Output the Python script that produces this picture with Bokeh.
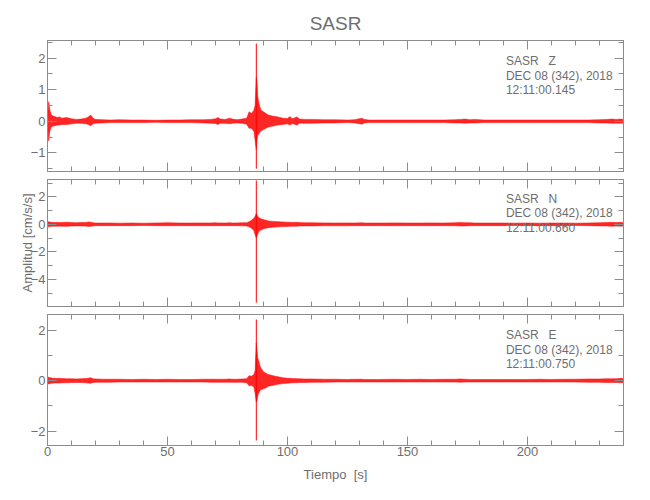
from bokeh.plotting import figure
from bokeh.models import (LinearAxis, Range1d, Label, SingleIntervalTicker,
                          ColumnDataSource, CustomLabelingPolicy)
from bokeh.layouts import column
from bokeh.embed import file_html
from bokeh.resources import INLINE

# ---- data ----
t_env = [0, 0.5, 1, 1.5, 2, 3, 4, 5, 6, 8,
         10, 12, 14, 16, 17, 18, 19, 20, 23, 26,
         30, 35, 40, 45, 50, 55, 60, 65, 68, 70,
         71, 72, 74, 76, 77, 79, 81, 83, 84, 85,
         86, 86.5, 87, 87.3, 87.6, 88, 88.5, 89, 90, 91,
         92, 94, 96, 98, 100, 101, 102, 104, 105, 107,
         110, 115, 120, 125, 128, 131, 132, 134, 138, 145,
         150, 155, 160, 165, 170, 172, 174, 176, 178, 182,
         190, 195, 200, 205, 210, 215, 220, 225, 230, 233,
         235, 237, 239, 240]

hi_z = [0.10, 0.62, 0.35, 0.22, 0.18, 0.15, 0.12, 0.14, 0.10, 0.12,
        0.08, 0.06, 0.07, 0.10, 0.14, 0.20, 0.10, 0.06, 0.05, 0.04,
        0.05, 0.04, 0.04, 0.03, 0.04, 0.04, 0.05, 0.05, 0.06, 0.08,
        0.12, 0.07, 0.06, 0.10, 0.07, 0.05, 0.07, 0.10, 0.30, 0.25,
        0.35, 0.50, 1.40, 1.25, 0.80, 0.60, 0.45, 0.35, 0.30, 0.25,
        0.20, 0.16, 0.14, 0.10, 0.09, 0.15, 0.08, 0.14, 0.07, 0.06,
        0.06, 0.05, 0.05, 0.04, 0.05, 0.10, 0.06, 0.04, 0.04, 0.04,
        0.04, 0.04, 0.04, 0.04, 0.05, 0.06, 0.07, 0.05, 0.06, 0.04,
        0.04, 0.04, 0.04, 0.04, 0.04, 0.04, 0.04, 0.04, 0.05, 0.06,
        0.07, 0.06, 0.07, 0.05]
lo_z = [-0.10, -0.62, -0.30, -0.20, -0.16, -0.14, -0.12, -0.12, -0.10, -0.10,
        -0.08, -0.06, -0.06, -0.08, -0.10, -0.14, -0.08, -0.06, -0.05, -0.04,
        -0.04, -0.04, -0.04, -0.03, -0.04, -0.04, -0.04, -0.05, -0.06, -0.07,
        -0.10, -0.06, -0.06, -0.08, -0.06, -0.05, -0.06, -0.09, -0.22, -0.22,
        -0.32, -0.60, -0.90, -0.60, -0.45, -0.40, -0.35, -0.30, -0.26, -0.22,
        -0.18, -0.15, -0.12, -0.10, -0.08, -0.12, -0.07, -0.12, -0.06, -0.06,
        -0.06, -0.05, -0.05, -0.04, -0.05, -0.09, -0.05, -0.04, -0.04, -0.04,
        -0.04, -0.04, -0.04, -0.04, -0.05, -0.05, -0.06, -0.05, -0.05, -0.04,
        -0.04, -0.04, -0.04, -0.04, -0.04, -0.04, -0.04, -0.04, -0.05, -0.05,
        -0.06, -0.06, -0.06, -0.05]

hi_n = [0.15, 0.20, 0.18, 0.15, 0.15, 0.14, 0.15, 0.13, 0.14, 0.15,
        0.13, 0.12, 0.14, 0.13, 0.18, 0.16, 0.12, 0.10, 0.10, 0.10,
        0.09, 0.10, 0.09, 0.10, 0.12, 0.10, 0.10, 0.11, 0.10, 0.12,
        0.10, 0.11, 0.10, 0.12, 0.10, 0.11, 0.12, 0.12, 0.20, 0.30,
        0.45, 0.60, 0.80, 0.70, 0.60, 0.50, 0.45, 0.40, 0.35, 0.30,
        0.25, 0.22, 0.20, 0.18, 0.16, 0.15, 0.14, 0.15, 0.13, 0.12,
        0.12, 0.11, 0.10, 0.11, 0.10, 0.12, 0.10, 0.10, 0.10, 0.11,
        0.10, 0.10, 0.11, 0.10, 0.12, 0.14, 0.12, 0.12, 0.10, 0.10,
        0.10, 0.09, 0.10, 0.09, 0.10, 0.10, 0.09, 0.10, 0.12, 0.14,
        0.15, 0.14, 0.15, 0.12]
lo_n = [-0.15, -0.18, -0.16, -0.14, -0.14, -0.13, -0.14, -0.12, -0.13, -0.14,
        -0.12, -0.11, -0.12, -0.12, -0.15, -0.14, -0.11, -0.10, -0.09, -0.09,
        -0.09, -0.09, -0.08, -0.09, -0.10, -0.09, -0.09, -0.10, -0.09, -0.10,
        -0.09, -0.10, -0.09, -0.10, -0.09, -0.10, -0.10, -0.11, -0.18, -0.28,
        -0.45, -0.75, -1.00, -0.85, -0.70, -0.55, -0.45, -0.40, -0.32, -0.28,
        -0.24, -0.20, -0.18, -0.16, -0.15, -0.14, -0.13, -0.13, -0.12, -0.11,
        -0.11, -0.10, -0.10, -0.10, -0.09, -0.10, -0.09, -0.09, -0.09, -0.10,
        -0.09, -0.09, -0.10, -0.09, -0.10, -0.12, -0.11, -0.10, -0.09, -0.09,
        -0.09, -0.08, -0.09, -0.09, -0.09, -0.09, -0.08, -0.09, -0.11, -0.12,
        -0.13, -0.12, -0.13, -0.11]

hi_e = [0.15, 0.14, 0.12, 0.12, 0.10, 0.10, 0.09, 0.10, 0.09, 0.08,
        0.08, 0.07, 0.08, 0.09, 0.10, 0.12, 0.08, 0.07, 0.06, 0.06,
        0.06, 0.05, 0.06, 0.05, 0.06, 0.05, 0.05, 0.06, 0.06, 0.06,
        0.06, 0.06, 0.06, 0.07, 0.06, 0.06, 0.07, 0.08, 0.20, 0.18,
        0.25, 0.40, 1.50, 1.20, 0.90, 0.80, 0.60, 0.50, 0.35, 0.30,
        0.25, 0.20, 0.16, 0.12, 0.10, 0.10, 0.09, 0.08, 0.08, 0.07,
        0.07, 0.06, 0.06, 0.05, 0.06, 0.06, 0.05, 0.05, 0.05, 0.06,
        0.05, 0.06, 0.05, 0.06, 0.06, 0.07, 0.06, 0.05, 0.05, 0.05,
        0.05, 0.05, 0.05, 0.06, 0.05, 0.06, 0.06, 0.07, 0.07, 0.08,
        0.08, 0.08, 0.10, 0.08]
lo_e = [-0.15, -0.12, -0.12, -0.10, -0.10, -0.09, -0.09, -0.09, -0.08, -0.08,
        -0.07, -0.07, -0.07, -0.08, -0.09, -0.10, -0.07, -0.06, -0.06, -0.06,
        -0.05, -0.05, -0.05, -0.05, -0.05, -0.05, -0.05, -0.05, -0.06, -0.06,
        -0.06, -0.06, -0.06, -0.06, -0.06, -0.06, -0.06, -0.08, -0.20, -0.18,
        -0.25, -0.50, -0.85, -0.80, -0.60, -0.50, -0.40, -0.35, -0.32, -0.28,
        -0.22, -0.18, -0.14, -0.11, -0.10, -0.09, -0.08, -0.08, -0.07, -0.07,
        -0.06, -0.06, -0.05, -0.05, -0.05, -0.05, -0.05, -0.05, -0.05, -0.05,
        -0.05, -0.05, -0.05, -0.05, -0.05, -0.06, -0.05, -0.05, -0.05, -0.05,
        -0.05, -0.05, -0.05, -0.05, -0.05, -0.05, -0.05, -0.06, -0.06, -0.07,
        -0.07, -0.07, -0.08, -0.07]

spike_t = [87.0]
spike_z_hi, spike_z_lo = [2.46], [-1.50]
spike_n_hi, spike_n_lo = [3.2], [-5.7]
spike_e_hi, spike_e_lo = [2.43], [-2.37]

station = "SASR"
components = ["Z", "N", "E"]
start_times = ["12:11:00.145", "12:11:00.660", "12:11:00.750"]
date_text = "DEC 08 (342), 2018"

# ---- layout ----
W = 645
LEFT, RIGHT = 47, 22
FRAME_H = 135
GRAY = "#6e6e6e"
FRAME = "#8c8c8c"
FONT = "Liberation Sans"
RED = "#ff0000"
NBSP = "\u00a0"

HIDE_CODE = """
for (const i of indices) {
    indices.unset(i)
}
return indices
"""


def add_axes(p, y_major, y_minor_n, show_x_labels, ylabel=None):
    xt = SingleIntervalTicker(interval=50, num_minor_ticks=5)
    yt = SingleIntervalTicker(interval=y_major, num_minor_ticks=y_minor_n)
    for loc in ["below", "above", "left", "right"]:
        ticker = xt if loc in ("below", "above") else yt
        ax = LinearAxis(ticker=ticker)
        ax.axis_line_color = FRAME
        ax.major_tick_line_color = FRAME
        ax.minor_tick_line_color = FRAME
        ax.major_tick_in = 9
        ax.major_tick_out = 0
        ax.minor_tick_in = 5
        ax.minor_tick_out = 0
        ax.major_label_text_color = GRAY
        ax.major_label_text_font = FONT
        ax.major_label_text_font_size = "13px"
        ax.major_label_standoff = 2
        if loc == "below":
            ax.major_label_standoff = 1
        if loc in ("above", "right") or (loc == "below" and not show_x_labels):
            ax.major_label_text_font_size = "1px"
            ax.major_label_standoff = 0
            ax.major_label_policy = CustomLabelingPolicy(code=HIDE_CODE)
        if loc == "below" and show_x_labels:
            ax.axis_label = "Tiempo" + NBSP + NBSP + "[s]"
            ax.axis_label_text_font = FONT
            ax.axis_label_text_font_size = "13px"
            ax.axis_label_text_font_style = "normal"
            ax.axis_label_text_color = GRAY
            ax.axis_label_standoff = 8
        if loc == "left" and ylabel:
            ax.axis_label = ylabel
            ax.axis_label_text_font = FONT
            ax.axis_label_text_font_size = "13px"
            ax.axis_label_text_font_style = "normal"
            ax.axis_label_text_color = GRAY
            ax.axis_label_standoff = -7
        p.add_layout(ax, loc)


def make_panel(ylo, yhi, top, bottom, hi, lo, shi, slo, comp, stime, label_y,
               y_major, y_minor_n, show_x_labels=False, ylabel=None, title=None):
    p = figure(width=W, height=FRAME_H + top + bottom,
               x_range=Range1d(0, 240), y_range=Range1d(ylo, yhi),
               x_axis_type=None, y_axis_type=None,
               output_backend="svg", toolbar_location=None,
               min_border_left=LEFT, min_border_right=RIGHT,
               min_border_top=top, min_border_bottom=bottom,
               title=title)
    p.outline_line_color = FRAME
    p.background_fill_color = "white"
    p.border_fill_color = "white"
    if title:
        p.title.align = "center"
        p.title.text_font = FONT
        p.title.text_font_size = "19px"
        p.title.text_font_style = "normal"
        p.title.text_color = GRAY
        p.title.standoff = 5
    add_axes(p, y_major, y_minor_n, show_x_labels, ylabel)
    src = ColumnDataSource(dict(t=t_env, hi=hi, lo=lo))
    p.varea(x="t", y1="lo", y2="hi", source=src, fill_color=RED, fill_alpha=0.85)
    p.line(x="t", y="hi", source=src, line_color=RED, line_width=0.5)
    p.line(x="t", y="lo", source=src, line_color=RED, line_width=0.5)
    p.segment(x0=spike_t, y0=slo, x1=spike_t, y1=shi, line_color=RED, line_width=1.0)
    lab = Label(x=191, y=label_y, x_units="data", y_units="data",
                text=f"{station}{NBSP * 3}{comp}\n{date_text}\n{stime}",
                text_baseline="top", text_align="left",
                text_font=FONT, text_font_size="12px", text_line_height=1.05,
                text_color=GRAY)
    p.add_layout(lab)
    return p


p1 = make_panel(-1.59, 2.56, 40, 0, hi_z, lo_z, spike_z_hi, spike_z_lo,
                components[0], start_times[0], 2.13, 1, 2, title=station)
p2 = make_panel(-5.98, 3.27, 0, 0, hi_n, lo_n, spike_n_hi, spike_n_lo,
                components[1], start_times[1], 2.38, 2, 2, ylabel="Amplitud [cm/s/s]")
p3 = make_panel(-2.57, 2.63, 0, 50, hi_e, lo_e, spike_e_hi, spike_e_lo,
                components[2], start_times[2], 2.09, 2, 2, show_x_labels=True)

layout = column(p1, p2, p3, spacing=0)
open("out.html", "w").write(file_html(layout, INLINE))
